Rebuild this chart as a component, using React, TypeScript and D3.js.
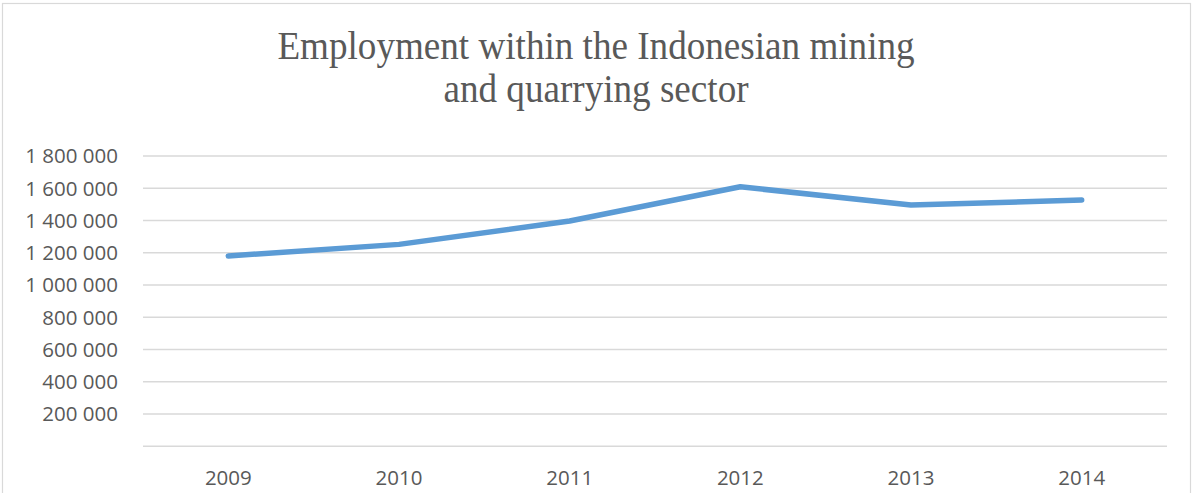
import { useEffect, useRef } from "react";
import * as d3 from "d3";

const years = ["2009", "2010", "2011", "2012", "2013", "2014"];
const employment = [1180000, 1252000, 1397000, 1609000, 1496000, 1527000];
const yTicks = [0, 200000, 400000, 600000, 800000, 1000000, 1200000, 1400000, 1600000, 1800000];
const titleLines = ["Employment within the Indonesian mining", "and quarrying sector"];

export default function App() {
  const ref = useRef<SVGSVGElement>(null);
  const width = 1192;
  const height = 493;

  useEffect(() => {
    if (!ref.current) return;
    const svg = d3.select(ref.current);
    svg.selectAll("*").remove();

    // chart frame (bottom edge falls outside the picture)
    svg.append("rect")
      .attr("x", 2.5)
      .attr("y", 3.5)
      .attr("width", 1188)
      .attr("height", 520)
      .attr("fill", "#fff")
      .attr("stroke", "#d9d9d9")
      .attr("stroke-width", 1.2);

    const left = 143, right = 1167;
    const x = d3.scaleBand().domain(years).range([left, right]);
    const y = d3.scaleLinear().domain([0, 1800000]).range([446.3, 156]);

    // title: tall Times face, slightly narrowed
    svg.append("g")
      .attr("transform", "translate(596,0) scale(0.94,1)")
      .selectAll("text")
      .data(titleLines)
      .enter()
      .append("text")
      .attr("x", 0)
      .attr("y", (d, i) => 59.5 + i * 42.3)
      .attr("text-anchor", "middle")
      .style("font-family", "'Liberation Serif', 'Times New Roman', serif")
      .style("font-size", "39.5px")
      .style("fill", "#595959")
      .text(d => d);

    // grid lines
    svg.append("g")
      .selectAll("line")
      .data(yTicks)
      .enter()
      .append("line")
      .attr("x1", left)
      .attr("x2", right)
      .attr("y1", d => y(d))
      .attr("y2", d => y(d))
      .attr("stroke", "#d9d9d9")
      .attr("stroke-width", 1.5);

    const fmt = (v: number) => d3.format(",")(v).replace(/,/g, " ");

    // y labels (0 is not labelled)
    svg.append("g")
      .selectAll("text")
      .data(yTicks.filter(d => d > 0))
      .enter()
      .append("text")
      .attr("x", 118)
      .attr("y", d => y(d))
      .attr("dy", "0.36em")
      .attr("text-anchor", "end")
      .style("font-family", "'Open Sans', sans-serif")
      .style("font-size", "20.5px")
      .style("fill", "#595959")
      .text(d => fmt(d));

    // x labels
    svg.append("g")
      .selectAll("text")
      .data(years)
      .enter()
      .append("text")
      .attr("x", d => (x(d) as number) + x.bandwidth() / 2)
      .attr("y", 485)
      .attr("text-anchor", "middle")
      .style("font-family", "'Open Sans', sans-serif")
      .style("font-size", "20.5px")
      .style("fill", "#595959")
      .text(d => d);

    const line = d3.line<number>()
      .x((d, i) => (x(years[i]) as number) + x.bandwidth() / 2)
      .y(d => y(d));

    svg.append("path")
      .datum(employment)
      .attr("d", line)
      .attr("fill", "none")
      .attr("stroke", "#5b9bd5")
      .attr("stroke-width", 5.5)
      .attr("stroke-linecap", "round")
      .attr("stroke-linejoin", "round");
  }, []);

  return (
    <svg
      ref={ref}
      width={width}
      height={height}
      viewBox={`0 0 ${width} ${height}`}
      style={{ position: "absolute", left: 0, top: 0, background: "#fff" }}
    />
  );
}
